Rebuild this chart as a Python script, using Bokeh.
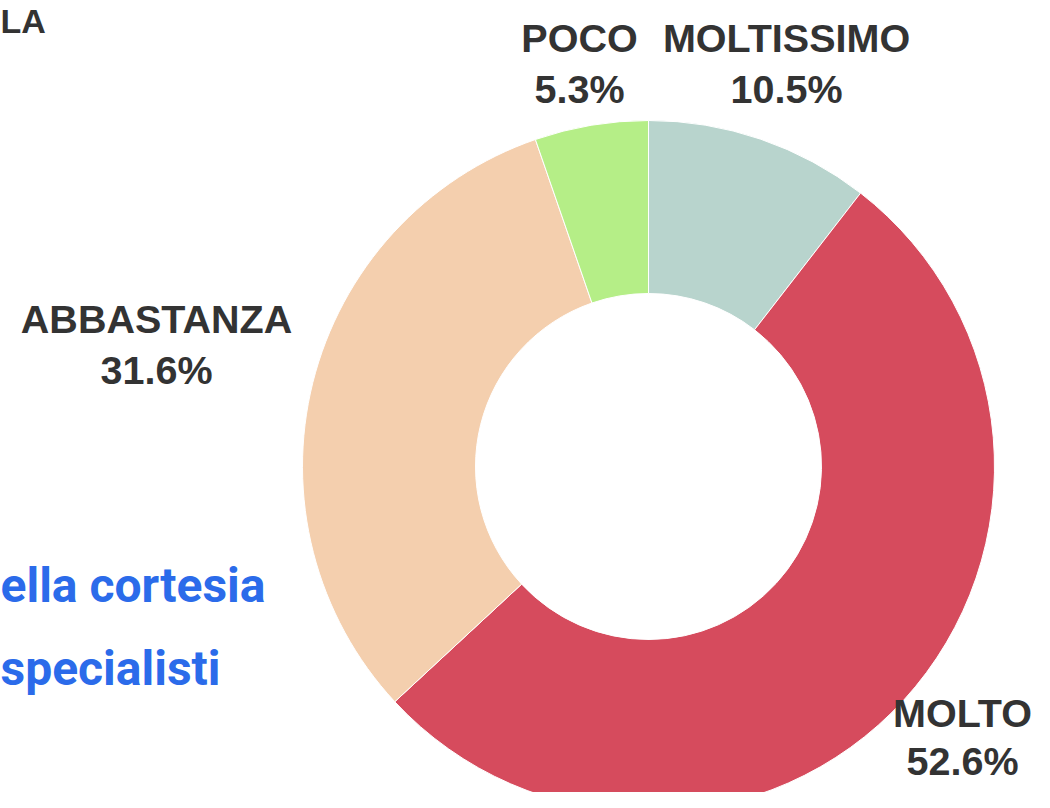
import numpy as np
from bokeh.plotting import figure
from bokeh.models import ColumnDataSource, Range1d
from bokeh.core.properties import value
from bokeh.embed import file_html
from bokeh.resources import INLINE

# ---- data ----
categories = ["MOLTISSIMO", "MOLTO", "ABBASTANZA", "POCO"]
percentages = [10.5, 52.6, 31.6, 5.3]
colors = ["#b8d4cd", "#d64b5d", "#f4cfae", "#b5ee87"]
title_fragment = "LA"
subtitle_lines = ["ella cortesia", "specialisti"]

# ---- layout (pixel coords, y measured from top) ----
W, H = 1034, 792
def ty(y):
    return H - y

p = figure(width=W, height=H, output_backend="svg", toolbar_location=None,
           x_range=Range1d(0, W), y_range=Range1d(0, H),
           min_border=0, outline_line_color=None, background_fill_color="white")
p.axis.visible = False
p.grid.visible = False

# donut (clockwise from 12 o'clock)
vals = np.array(percentages)
frac = vals / vals.sum()
ends = np.pi / 2 - 2 * np.pi * np.cumsum(frac)
starts = np.concatenate([[np.pi / 2], ends[:-1]])
src = ColumnDataSource(dict(start=ends, end=starts, color=colors, cat=categories))
cx, cy = 648, ty(466)
p.annular_wedge(x=cx, y=cy, inner_radius=173, outer_radius=346,
                start_angle="start", end_angle="end", fill_color="color",
                line_color="white", line_width=1, source=src)

# labels
label_pos = {
    "MOLTISSIMO": (786, 37, 51),
    "MOLTO": (962, 712, 48),
    "ABBASTANZA": (156, 318, 51),
    "POCO": (579, 37, 51),
}
lx, ly, lt = [], [], []
for c, v in zip(categories, percentages):
    x, y, dy = label_pos[c]
    lx += [x, x]
    ly += [ty(y), ty(y + dy)]
    lt += [c, f"{v:.1f}%"]
p.text(x=lx, y=ly, text=lt, text_align="center", text_baseline="middle",
       text_font=value("Liberation Sans"), text_font_style="bold",
       text_font_size="39.5px", text_color="#333333")

# title fragment (top-left)
p.text(x=[0], y=[ty(1)], text=[title_fragment], text_align="left",
       text_baseline="top", text_font=value("Liberation Sans"),
       text_font_style="bold", text_font_size="34px", text_color="#333333")

# blue subtitle fragment
p.text(x=[0, 0], y=[ty(585), ty(668)], text=subtitle_lines,
       text_align="left", text_baseline="middle",
       text_font=value("Roboto"), text_font_style="bold",
       text_font_size="48px", text_color="#2b6bea")

open("out.html", "w").write(file_html(p, INLINE))
